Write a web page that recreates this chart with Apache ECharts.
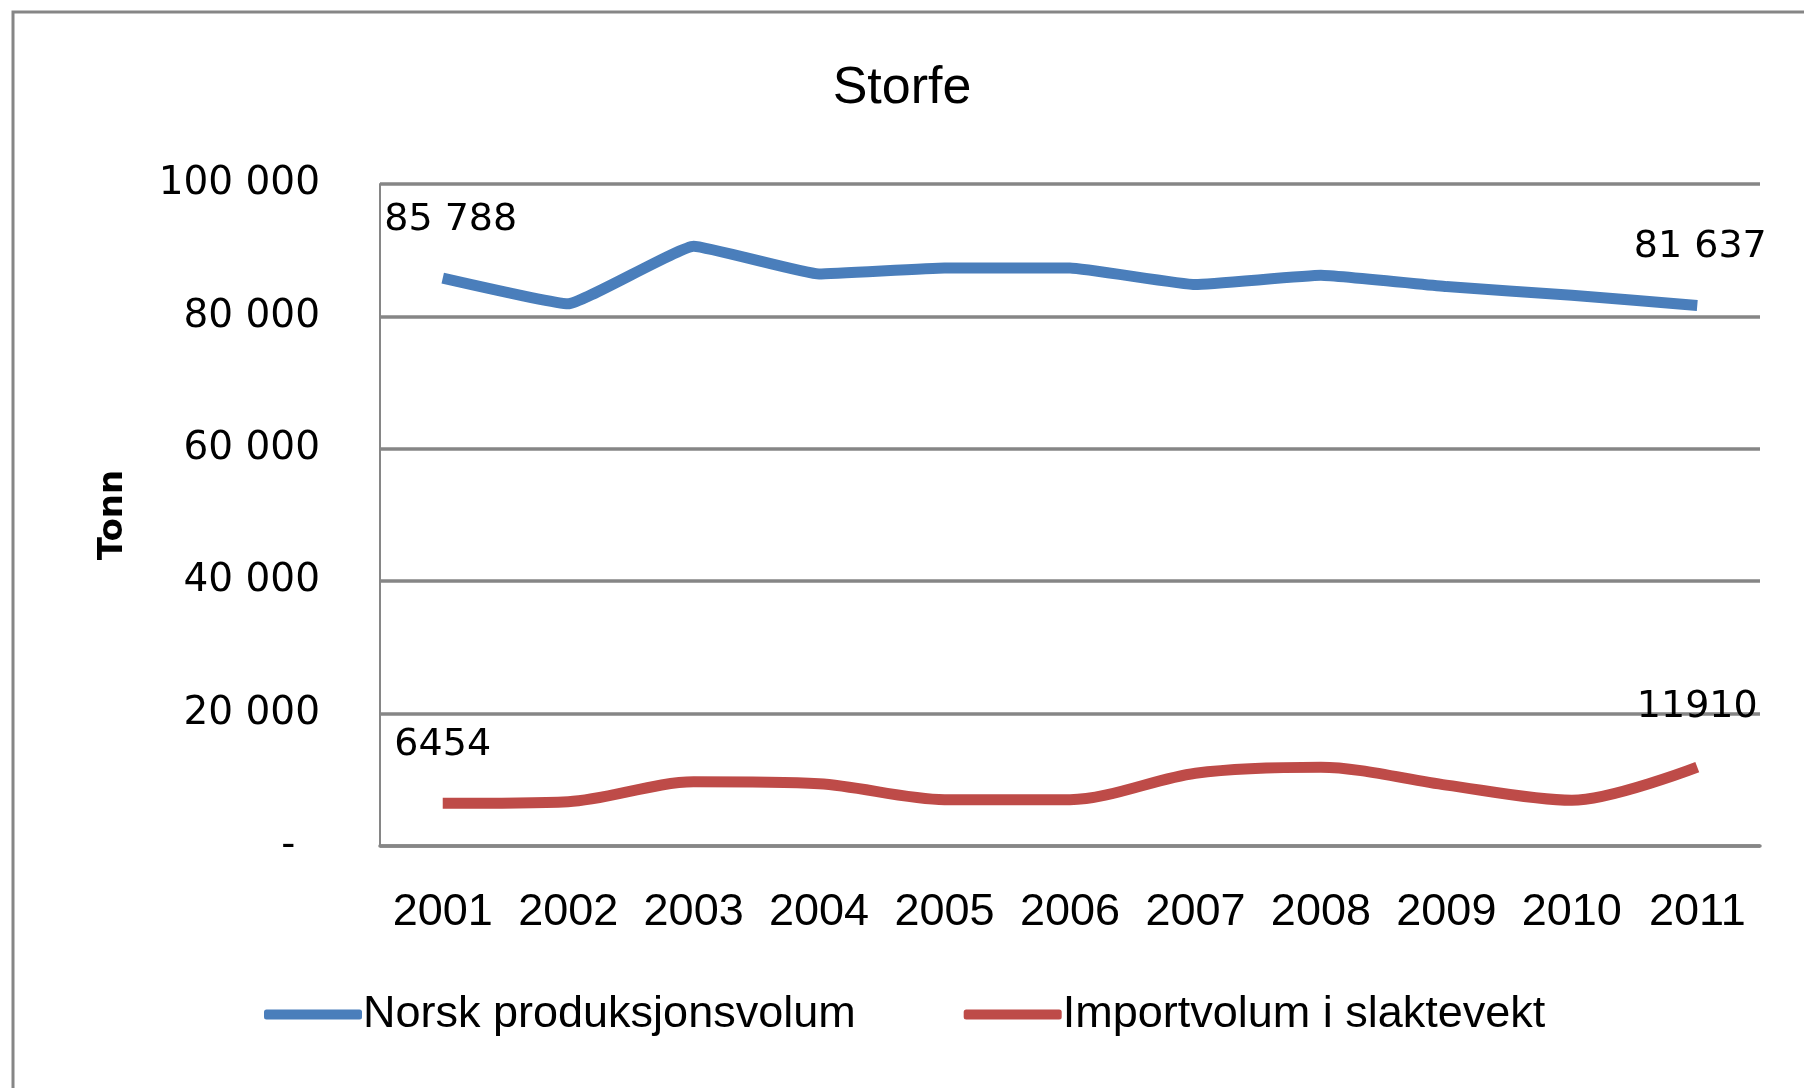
<!DOCTYPE html>
<html>
<head>
<meta charset="utf-8">
<title>Storfe</title>
<script src="https://cdn.jsdelivr.net/npm/echarts@6/dist/echarts.min.js"></script>
<style>
  html, body { margin: 0; padding: 0; background: #fff; }
  #chart { width: 1804px; height: 1088px; }
</style>
</head>
<body>
<div id="chart"></div>
<script>
var years = ['2001', '2002', '2003', '2004', '2005', '2006', '2007', '2008', '2009', '2010', '2011'];
var norsk = [85788, 81900, 90600, 86400, 87300, 87300, 84800, 86200, 84500, 83200, 81637];
var importvol = [6454, 6700, 9700, 9400, 7000, 7000, 11000, 11900, 9200, 6900, 11910];
var yTicks = [0, 20000, 40000, 60000, 80000, 100000];

function spaced(v) {
    return String(v).replace(/\B(?=(\d{3})+(?!\d))/g, ' ');
}

// only first and last point get a label, like the original
function withEndLabels(arr, fmt, offFirst, offLast) {
    var last = arr.length - 1;
    return arr.map(function (v, i) {
        if (i === 0 || i === last) {
            return {
                value: v,
                label: {
                    show: true,
                    position: 'top',
                    offset: i === 0 ? offFirst : offLast,
                    formatter: function () { return fmt(v); }
                }
            };
        }
        return v;
    });
}

var chart = echarts.init(document.getElementById('chart'));
var labelFont = { fontFamily: 'DejaVu Sans', fontSize: 38, color: '#000' };

var option = {
    animation: false,
    backgroundColor: '#fff',
    graphic: [{
        type: 'rect',
        shape: { x: 13, y: 12, width: 1900, height: 1200 },
        style: { fill: null, stroke: '#868686', lineWidth: 3 },
        silent: true
    }],
    title: {
        text: 'Storfe',
        left: 'center',
        top: 58,
        textStyle: { fontFamily: 'Liberation Sans', fontWeight: 'normal', fontSize: 52, color: '#000' }
    },
    grid: { left: 380, right: 44, top: 184, bottom: 242 },
    legend: {
        bottom: 46,
        left: 259,
        itemWidth: 98,
        itemHeight: 10,
        itemGap: 108,
        icon: 'roundRect',
        textStyle: { fontFamily: 'Liberation Sans', fontSize: 45, color: '#000', padding: [0, 0, 0, -4] },
        data: ['Norsk produksjonsvolum', 'Importvolum i slaktevekt']
    },
    xAxis: {
        type: 'category',
        data: years,
        boundaryGap: true,
        axisLine: { lineStyle: { color: '#868686', width: 3.5 } },
        axisTick: { show: false },
        axisLabel: { interval: 0, margin: 44, fontFamily: 'Liberation Sans', fontSize: 45, color: '#000' }
    },
    yAxis: {
        type: 'value',
        min: yTicks[0],
        max: yTicks[yTicks.length - 1],
        interval: 20000,
        name: 'Tonn',
        nameLocation: 'middle',
        nameRotate: 90,
        nameGap: 250,
        nameTextStyle: { fontFamily: 'DejaVu Sans', fontWeight: 'bold', fontSize: 34, color: '#000' },
        axisLine: { show: true, lineStyle: { color: '#868686', width: 2 } },
        axisTick: { show: false },
        splitLine: { lineStyle: { color: '#868686', width: 3.5 } },
        axisLabel: {
            margin: 60,
            fontFamily: 'DejaVu Sans',
            fontSize: 39,
            color: '#000',
            formatter: function (v) { return v === 0 ? '-  ' : spaced(v); }
        }
    },
    series: [
        {
            name: 'Norsk produksjonsvolum',
            type: 'line',
            data: withEndLabels(norsk, spaced, [8, -34], [3, -34]),
            smooth: 0.1,
            symbol: 'circle',
            symbolSize: 0,
            showSymbol: true,
            lineStyle: { width: 11, color: '#4A7EBB' },
            itemStyle: { color: '#4A7EBB' },
            label: labelFont
        },
        {
            name: 'Importvolum i slaktevekt',
            type: 'line',
            data: withEndLabels(importvol, String, [0, -34], [0, -36]),
            smooth: 0.3,
            symbol: 'circle',
            symbolSize: 0,
            showSymbol: true,
            lineStyle: { width: 11, color: '#BE4B48' },
            itemStyle: { color: '#BE4B48' },
            label: labelFont
        }
    ]
};

option && chart.setOption(option);
window.addEventListener('resize', function () {
    chart.resize();
});
</script>
</body>
</html>
